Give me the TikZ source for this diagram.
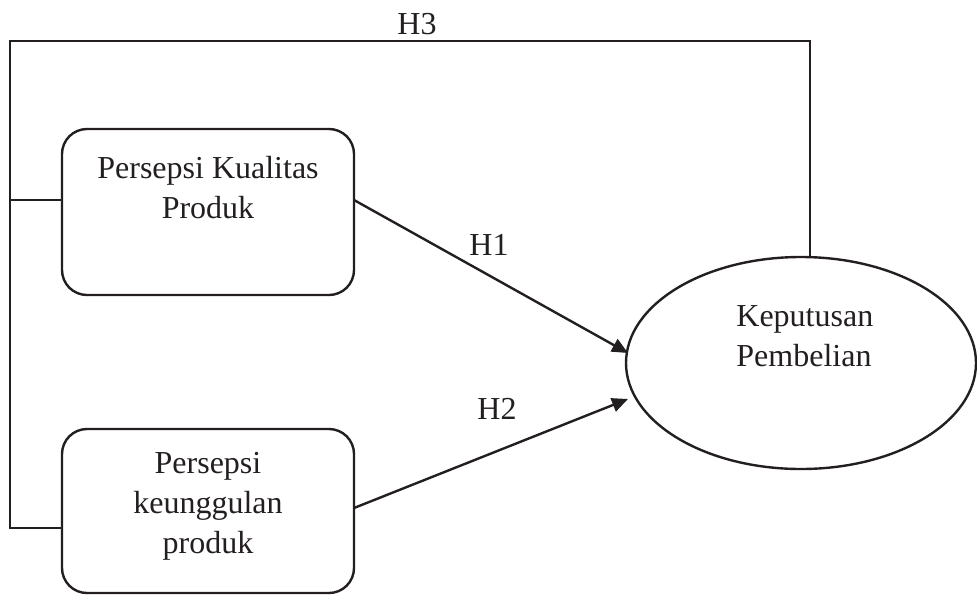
\documentclass[tikz,border=0pt]{standalone}
\usepackage{fontspec}
\setmainfont{Liberation Serif}
\usetikzlibrary{shapes.geometric,arrows.meta}
\definecolor{ink}{HTML}{231F20}
\begin{document}
\begin{tikzpicture}[x=0.5pt,y=-0.5pt,
  conn/.style={line width=1.2pt,draw=ink},
  box/.style={draw=ink,line width=1.2pt,rounded corners=12.5pt,minimum width=146pt,inner sep=0pt},
  lbl/.style={text=ink,font=\fontsize{16pt}{20pt}\selectfont,inner sep=0pt},
  arr/.style={conn,-{Triangle[length=8pt,width=7pt]}}]
\useasboundingbox (0,0) rectangle (977,594);
\node[box,minimum height=83pt] (b1) at (208,212) {};
\node[box,minimum height=82pt] (b2) at (208,511) {};
\node[draw=ink,line width=1.2pt,ellipse,minimum width=175pt,minimum height=106pt,inner sep=0pt] (ell) at (801,363) {};
\node[lbl,align=center] (t1) at (208,188) {Persepsi Kualitas\\Produk};
\node[lbl,align=center] (t2) at (208,506) {Persepsi\\keunggulan\\produk};
\node[lbl,align=left,anchor=west] (t3) at (736,336) {Keputusan\\Pembelian};
\node[lbl] (h3) at (417,24) {H3};
\node[lbl] (h1) at (489,245) {H1};
\node[lbl] (h2) at (497,409) {H2};
\coordinate (c1) at (10,200);
\coordinate (c2) at (10,528);
\coordinate (c3) at (10,41);
\coordinate (c4) at (810,41);
\coordinate (p1) at (354,200);
\coordinate (p2) at (354,508);
\coordinate (e1) at (628,353);
\coordinate (e2) at (628,399);
\draw[conn] (b2.west |- c2) -- (c2) -- (c3) -- (c4) -- (c4 |- ell.north);
\draw[conn] (c1) -- (b1.west |- c1);
\draw[arr] (p1) -- (e1);
\draw[arr] (p2) -- (e2);
\end{tikzpicture}
\end{document}
